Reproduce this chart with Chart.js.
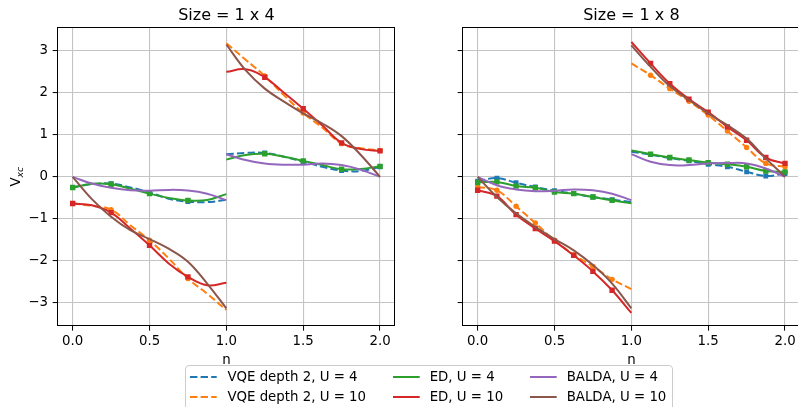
<!DOCTYPE html>
<html>
<head>
<meta charset="utf-8">
<script src="https://cdn.jsdelivr.net/npm/chart.js@4.4.1/dist/chart.umd.min.js"></script>
<style>
  html, body { margin: 0; padding: 0; width: 798px; height: 407px; overflow: hidden; background: #fff; }
  canvas { position: absolute; top: 0; }
  #c4 { left: 0; }
  #c8 { left: 400px; }
  #legend {
    position: absolute; left: 185px; top: 365px; width: 486px; height: 50px;
    border: 1px solid #cccccc; border-radius: 4px; background: rgba(255,255,255,0.8);
    font-family: "DejaVu Sans"; font-size: 13.33px; color: #000; z-index: 2;
  }
  .item { position: absolute; height: 16px; line-height: 16px; white-space: nowrap; }
  .item svg { position: absolute; left: 0; top: 0; }
</style>
</head>
<body>
<canvas id="c4" width="400" height="407"></canvas>
<canvas id="c8" width="420" height="407"></canvas>
<div id="legend"></div>
<script>
// Filling n on each side of the integer discontinuity (0..1 and 1..2)
const nGrid = [0, 0.125, 0.25, 0.375, 0.5, 0.625, 0.75, 0.875, 1,
               1, 1.125, 1.25, 1.375, 1.5, 1.625, 1.75, 1.875, 2];
const xTicks = [0, 0.5, 1, 1.5, 2];
const yTicks = [-3, -2, -1, 0, 1, 2, 3];
const seriesNames = ['VQE depth 2, U = 4', 'VQE depth 2, U = 10', 'ED, U = 4',
                     'ED, U = 10', 'BALDA, U = 4', 'BALDA, U = 10'];
const panelTitles = ['Size = 1 x 4', 'Size = 1 x 8'];

// Size = 1 x 4
const vqeU4_1x4   = [-0.25, -0.175, -0.16, -0.25, -0.37, -0.52, -0.59, -0.60, -0.55,
                      0.54, 0.57, 0.57, 0.48, 0.36, 0.24, 0.15, 0.14, 0.24];
const vqeU10_1x4  = [-0.635, -0.69, -0.78, -1.15, -1.51, -1.94, -2.42, -2.78, -3.17,
                      3.18, 2.79, 2.40, 1.94, 1.52, 1.17, 0.79, 0.68, 0.63];
const edU4_1x4    = [-0.254, -0.165, -0.175, -0.28, -0.40, -0.50, -0.56, -0.55, -0.41,
                      0.41, 0.52, 0.55, 0.48, 0.38, 0.28, 0.18, 0.19, 0.25];
const edU10_1x4   = [-0.635, -0.675, -0.85, -1.23, -1.63, -2.06, -2.38, -2.58, -2.52,
                      2.50, 2.56, 2.37, 2.00, 1.62, 1.22, 0.81, 0.66, 0.62];
const baldaU4_1x4 = [0, -0.16, -0.26, -0.32, -0.33, -0.31, -0.325, -0.40, -0.555,
                      0.54, 0.40, 0.32, 0.29, 0.29, 0.32, 0.28, 0.17, 0];
const baldaU10_1x4 = [0, -0.53, -0.95, -1.27, -1.48, -1.71, -2.02, -2.54, -3.13,
                      3.15, 2.54, 2.10, 1.79, 1.51, 1.27, 0.97, 0.52, 0];
const measured1x4 = [0, 0.25, 0.5, 0.75, 1.25, 1.5, 1.75, 2];

// Size = 1 x 8
const vqeU4_1x8   = [-0.10, -0.03, -0.14, -0.24, -0.33, -0.40, -0.48, -0.54, -0.60,
                      0.60, 0.53, 0.45, 0.38, 0.30, 0.24, 0.12, 0.02, 0.08];
const vqeU10_1x8  = [-0.24, -0.32, -0.70, -1.10, -1.51, -1.85, -2.13, -2.44, -2.67,
                      2.70, 2.42, 2.10, 1.80, 1.47, 1.09, 0.70, 0.32, 0.24];
const edU4_1x8    = [-0.135, -0.12, -0.22, -0.26, -0.36, -0.40, -0.48, -0.56, -0.63,
                      0.63, 0.54, 0.46, 0.40, 0.34, 0.30, 0.24, 0.14, 0.12];
const edU10_1x8   = [-0.32, -0.46, -0.90, -1.23, -1.53, -1.87, -2.25, -2.70, -3.24,
                      3.21, 2.70, 2.22, 1.85, 1.54, 1.19, 0.87, 0.46, 0.32];
const baldaU4_1x8 = [0, -0.20, -0.30, -0.34, -0.33, -0.30, -0.32, -0.40, -0.555,
                      0.54, 0.36, 0.28, 0.28, 0.32, 0.33, 0.32, 0.20, 0];
const baldaU10_1x8 = [0, -0.48, -0.87, -1.19, -1.48, -1.75, -2.10, -2.54, -3.13,
                      3.13, 2.62, 2.16, 1.83, 1.51, 1.23, 0.91, 0.44, 0];
const measured1x8 = [0, 0.125, 0.25, 0.375, 0.5, 0.625, 0.75, 0.875,
                     1.125, 1.25, 1.375, 1.5, 1.625, 1.75, 1.875, 2];

// Line styles per series (same order as seriesNames)
const styles = [
  { color: '#1f77b4', dash: [7.4, 3.2], marker: 'rect',   r: 3.4 },
  { color: '#ff7f0e', dash: [7.4, 3.2], marker: 'circle', r: 2.7 },
  { color: '#2ca02c', dash: [],         marker: 'rect',   r: 3.8 },
  { color: '#d62728', dash: [],         marker: 'rect',   r: 3.8 },
  { color: '#9467bd', dash: [],         marker: null,     r: 0 },
  { color: '#8c564b', dash: [],         marker: null,     r: 0 }
];

Chart.defaults.font.family = '"DejaVu Sans"';
Chart.defaults.font.size = 13.33;
Chart.defaults.color = '#000';

function buildDataset(values, i, measured) {
  const st = styles[i];
  const pts = [], radii = [];
  values.forEach((v, k) => {
    if (k === 9) { pts.push({ x: 1, y: null }); radii.push(0); }
    const n = nGrid[k];
    pts.push({ x: n, y: v });
    radii.push(st.marker && measured.includes(n) ? st.r : 0);
  });
  return {
    label: seriesNames[i],
    data: pts,
    borderColor: st.color,
    backgroundColor: st.color,
    borderWidth: 2,
    borderDash: st.dash,
    tension: 0.4,
    spanGaps: false,
    pointStyle: st.marker || 'circle',
    pointRadius: radii,
    pointHoverRadius: radii,
    pointBorderWidth: 0,
    pointBackgroundColor: st.color,
    order: 5 - i
  };
}

// Box frame, panel title, axis labels
const framePlugin = {
  id: 'frame',
  afterDraw(chart, args, opts) {
    const { ctx, chartArea: a } = chart;
    ctx.save();
    ctx.strokeStyle = '#000';
    ctx.lineWidth = 1;
    const l = Math.round(a.left) + 0.5, t = Math.round(a.top) + 0.5;
    const r = Math.round(a.right) - 0.5, b = Math.round(a.bottom) - 0.5;
    ctx.strokeRect(l, t, r - l, b - t);
    ctx.fillStyle = '#000';
    ctx.textAlign = 'center';
    ctx.textBaseline = 'alphabetic';
    const cx = (a.left + a.right) / 2;
    ctx.font = '16px "DejaVu Sans"';
    ctx.fillText(opts.title, cx, 19.5);
    ctx.font = '13.33px "DejaVu Sans"';
    ctx.fillText('n', cx, 364);
    if (opts.ylabel) {
      const cy = (a.top + a.bottom) / 2;
      ctx.translate(20, cy);
      ctx.rotate(-Math.PI / 2);
      ctx.textAlign = 'left';
      ctx.font = '13.33px "DejaVu Sans"';
      const wV = ctx.measureText('V').width;
      ctx.font = 'italic 9.3px "DejaVu Sans"';
      const wS = ctx.measureText('xc').width;
      const x0 = -(wV + wS) / 2;
      ctx.font = '13.33px "DejaVu Sans"';
      ctx.fillText('V', x0, 0);
      ctx.font = 'italic 9.3px "DejaVu Sans"';
      ctx.fillText('xc', x0 + wV, 3);
    }
    ctx.restore();
  }
};

function makeChart(id, title, series, measured, geom) {
  const datasets = series.map((vals, i) => buildDataset(vals, i, measured));
  return new Chart(document.getElementById(id), {
    type: 'line',
    data: { datasets },
    plugins: [framePlugin],
    options: {
      responsive: false,
      animation: false,
      events: [],
      layout: { padding: { top: geom.top, right: geom.right, left: 0, bottom: 0 } },
      plugins: {
        legend: { display: false },
        tooltip: { enabled: false },
        frame: { title, ylabel: geom.ylabel }
      },
      scales: {
        x: {
          type: 'linear', min: -0.1, max: 2.1,
          afterBuildTicks: s => { s.ticks = xTicks.map(v => ({ value: v })); },
          afterFit: s => { s.height = 407 - geom.bottom; },
          ticks: { callback: v => v.toFixed(1), padding: 2.5, maxRotation: 0, autoSkip: false },
          grid: { color: '#c4c4c4', lineWidth: 1.1, tickColor: '#000', tickLength: 4.67, tickWidth: 1 },
          border: { display: false }
        },
        y: {
          type: 'linear', min: -3.55, max: 3.56,
          afterBuildTicks: s => { s.ticks = yTicks.map(v => ({ value: v })); },
          afterFit: s => { s.width = geom.left; },
          ticks: {
            callback: v => geom.ylabel ? String(v).replace('-', '\u2212') : '',
            padding: 4.67, autoSkip: false
          },
          grid: { color: '#c4c4c4', lineWidth: 1.1, tickColor: '#000', tickLength: 4.67, tickWidth: 1 },
          border: { display: false }
        }
      }
    }
  });
}

makeChart('c4', panelTitles[0],
  [vqeU4_1x4, vqeU10_1x4, edU4_1x4, edU10_1x4, baldaU4_1x4, baldaU10_1x4],
  measured1x4, { top: 27.3, bottom: 326, left: 57.3, right: 400 - 395.4, ylabel: true });

makeChart('c8', panelTitles[1],
  [vqeU4_1x8, vqeU10_1x8, edU4_1x8, edU10_1x8, baldaU4_1x8, baldaU10_1x8],
  measured1x8, { top: 27.3, bottom: 326, left: 62.3, right: 420 - 400.4, ylabel: false });

// Legend below both panels, three columns filled top to bottom
const legend = document.getElementById('legend');
const lineStarts = [190, 392.7, 529.9];
const textStarts = [227.4, 429.7, 566.7];
const rowCenters = [376.7, 396.7];
seriesNames.forEach((name, i) => {
  const col = Math.floor(i / 2), row = i % 2;
  const st = styles[i];
  const top = rowCenters[row] - 366 - 8;
  const sample = document.createElement('div');
  sample.className = 'item';
  sample.style.left = (lineStarts[col] - 186) + 'px';
  sample.style.top = top + 'px';
  sample.innerHTML = '<svg width="27" height="16"><line x1="0" y1="8" x2="26.7" y2="8" stroke="' +
    st.color + '" stroke-width="2"' + (st.dash.length ? ' stroke-dasharray="' + st.dash.join(',') + '"' : '') +
    '/></svg>';
  legend.appendChild(sample);
  const label = document.createElement('div');
  label.className = 'item';
  label.style.left = (textStarts[col] - 186) + 'px';
  label.style.top = top + 'px';
  label.textContent = name;
  legend.appendChild(label);
});
</script>
</body>
</html>
